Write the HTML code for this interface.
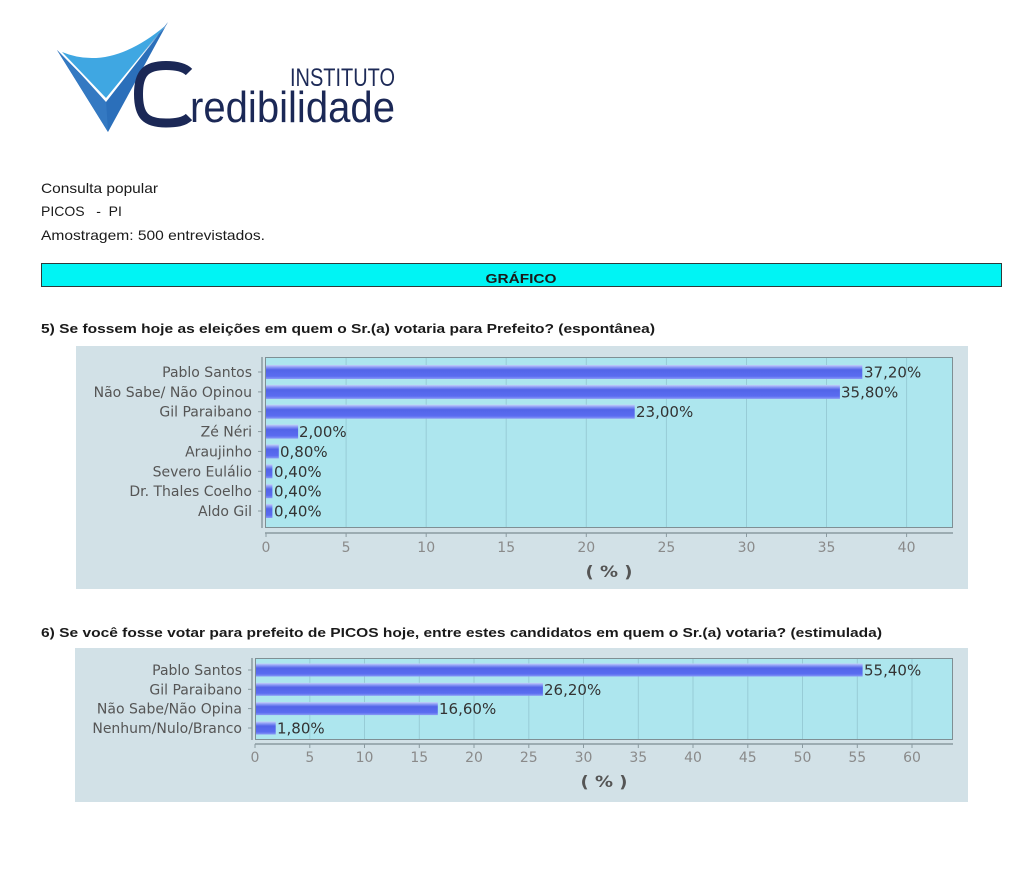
<!DOCTYPE html>
<html><head><meta charset="utf-8">
<style>
html,body{margin:0;padding:0;background:#fff;}
svg{display:block;}
.hd{font-family:"Liberation Sans",sans-serif;fill:#1a1a1a;}
.cl{font-family:"DejaVu Sans","Liberation Sans",sans-serif;font-size:14px;fill:#555;}
.vl{font-family:"DejaVu Sans","Liberation Sans",sans-serif;font-size:15px;fill:#333;}
.tk{font-family:"DejaVu Sans","Liberation Sans",sans-serif;font-size:14px;fill:#8a8a8a;}
.ax{font-family:"DejaVu Sans","Liberation Sans",sans-serif;font-size:16px;font-weight:bold;fill:#555;}
</style></head>
<body>
<svg width="1024" height="875" viewBox="0 0 1024 875" xmlns="http://www.w3.org/2000/svg">
<defs>
<linearGradient id="bar" x1="0" y1="0" x2="0" y2="1">
<stop offset="0" stop-color="#c4d0fa"/>
<stop offset="0.18" stop-color="#8494f4"/>
<stop offset="0.35" stop-color="#5264e8"/>
<stop offset="0.8" stop-color="#5a6cf0"/>
<stop offset="1" stop-color="#8a9af6"/>
</linearGradient>
</defs>
<rect width="1024" height="875" fill="#fff"/>

<!-- Logo -->
<polygon points="57,50 108,132 168,22 106,100" fill="#2b6fba"/>
<polygon points="57,50 108,132 106,100" fill="#3479c2"/>
<polygon points="60,51 106,102 167,24 165,27 106,98" fill="#ffffff"/>
<path d="M62,52 Q110,72 165,26 L106,98 Z" fill="#3fa7e2"/>
<path d="M189,72 C184,67 176,65.5 166,65.5 C146,65.5 138.5,73 138.5,94 C138.5,116 146,123 166,123 C176,123 184,122 189,117" fill="none" stroke="#1b2856" stroke-width="9"/>
<text x="290" y="86" font-family="Liberation Sans, sans-serif" font-size="25" fill="#1d2a57" textLength="105" lengthAdjust="spacingAndGlyphs">INSTITUTO</text>
<text x="190" y="122" font-family="Liberation Sans, sans-serif" font-size="44" fill="#1b2856" textLength="205" lengthAdjust="spacingAndGlyphs">redibilidade</text>

<!-- Header text -->
<text class="hd" x="41" y="193" font-size="14" textLength="117" lengthAdjust="spacingAndGlyphs">Consulta popular</text>
<text class="hd" x="41" y="216" font-size="14" xml:space="preserve">PICOS   -  PI</text>
<text class="hd" x="41" y="240" font-size="14" textLength="224" lengthAdjust="spacingAndGlyphs">Amostragem: 500 entrevistados.</text>

<rect x="41.5" y="263.5" width="960" height="23" fill="#00f4f4" stroke="#2e3a3a" stroke-width="1"/>
<text class="hd" x="521" y="283" font-size="12.5" font-weight="bold" text-anchor="middle" fill="#222" textLength="71" lengthAdjust="spacingAndGlyphs">GRÁFICO</text>

<text class="hd" x="41" y="333" font-size="13" font-weight="bold" textLength="614" lengthAdjust="spacingAndGlyphs">5) Se fossem hoje as eleições em quem o Sr.(a) votaria para Prefeito? (espontânea)</text>

<!-- Chart 1 -->
<rect x="76" y="346" width="892" height="243" fill="#d2e1e7"/>
<rect x="265.5" y="357.5" width="687" height="170" fill="#ade6ee" stroke="#7f8f94" stroke-width="1"/>
<g stroke="#97ccd6" stroke-width="1">
<line x1="346.1" y1="358" x2="346.1" y2="527"/>
<line x1="426.2" y1="358" x2="426.2" y2="527"/>
<line x1="506.2" y1="358" x2="506.2" y2="527"/>
<line x1="586.3" y1="358" x2="586.3" y2="527"/>
<line x1="666.4" y1="358" x2="666.4" y2="527"/>
<line x1="746.5" y1="358" x2="746.5" y2="527"/>
<line x1="826.5" y1="358" x2="826.5" y2="527"/>
<line x1="906.6" y1="358" x2="906.6" y2="527"/>
</g>
<line x1="262" y1="357" x2="262" y2="528" stroke="#8a9aa0" stroke-width="1.5"/>
<line x1="265" y1="533" x2="953" y2="533" stroke="#8a9aa0" stroke-width="1.5"/>
<g stroke="#8a9aa0" stroke-width="1">
<line x1="266" y1="533" x2="266" y2="537"/><line x1="346.1" y1="533" x2="346.1" y2="537"/><line x1="426.2" y1="533" x2="426.2" y2="537"/><line x1="506.2" y1="533" x2="506.2" y2="537"/><line x1="586.3" y1="533" x2="586.3" y2="537"/><line x1="666.4" y1="533" x2="666.4" y2="537"/><line x1="746.5" y1="533" x2="746.5" y2="537"/><line x1="826.5" y1="533" x2="826.5" y2="537"/><line x1="906.6" y1="533" x2="906.6" y2="537"/>
<line x1="258" y1="372" x2="262" y2="372"/><line x1="258" y1="391.9" x2="262" y2="391.9"/><line x1="258" y1="411.7" x2="262" y2="411.7"/><line x1="258" y1="431.6" x2="262" y2="431.6"/><line x1="258" y1="451.4" x2="262" y2="451.4"/><line x1="258" y1="471.3" x2="262" y2="471.3"/><line x1="258" y1="491.2" x2="262" y2="491.2"/><line x1="258" y1="511" x2="262" y2="511"/>
</g>
<g fill="url(#bar)">
<rect x="266" y="365" width="596.3" height="14"/>
<rect x="266" y="384.9" width="573.9" height="14"/>
<rect x="266" y="404.7" width="368.7" height="14"/>
<rect x="266" y="424.6" width="32.1" height="14"/>
<rect x="266" y="444.4" width="12.8" height="14"/>
<rect x="266" y="464.3" width="6.4" height="14"/>
<rect x="266" y="484.2" width="6.4" height="14"/>
<rect x="266" y="504" width="6.4" height="14"/>
</g>
<g class="cl" text-anchor="end">
<text x="252" y="377">Pablo Santos</text>
<text x="252" y="396.9">Não Sabe/ Não Opinou</text>
<text x="252" y="416.7">Gil Paraibano</text>
<text x="252" y="436.6">Zé Néri</text>
<text x="252" y="456.4">Araujinho</text>
<text x="252" y="476.3">Severo Eulálio</text>
<text x="252" y="496.2">Dr. Thales Coelho</text>
<text x="252" y="516">Aldo Gil</text>
</g>
<g class="vl">
<text x="864" y="377.5">37,20%</text>
<text x="841" y="397.4">35,80%</text>
<text x="636" y="417.2">23,00%</text>
<text x="299" y="437.1">2,00%</text>
<text x="280" y="456.9">0,80%</text>
<text x="274" y="476.8">0,40%</text>
<text x="274" y="496.7">0,40%</text>
<text x="274" y="516.5">0,40%</text>
</g>
<g class="tk" text-anchor="middle">
<text x="266" y="552">0</text><text x="346.1" y="552">5</text><text x="426.2" y="552">10</text><text x="506.2" y="552">15</text><text x="586.3" y="552">20</text><text x="666.4" y="552">25</text><text x="746.5" y="552">30</text><text x="826.5" y="552">35</text><text x="906.6" y="552">40</text>
</g>
<text class="ax" x="609" y="577" text-anchor="middle" textLength="47" lengthAdjust="spacingAndGlyphs" xml:space="preserve">( % )</text>

<text class="hd" x="41" y="637" font-size="13" font-weight="bold" textLength="841" lengthAdjust="spacingAndGlyphs">6) Se você fosse votar para prefeito de PICOS hoje, entre estes candidatos em quem o Sr.(a) votaria? (estimulada)</text>

<!-- Chart 2 -->
<rect x="75" y="648" width="893" height="154" fill="#d2e1e7"/>
<rect x="255.5" y="658.5" width="697" height="81" fill="#ade6ee" stroke="#7f8f94" stroke-width="1"/>
<g stroke="#97ccd6" stroke-width="1">
<line x1="309.8" y1="659" x2="309.8" y2="739"/><line x1="364.5" y1="659" x2="364.5" y2="739"/><line x1="419.3" y1="659" x2="419.3" y2="739"/><line x1="474" y1="659" x2="474" y2="739"/><line x1="528.8" y1="659" x2="528.8" y2="739"/><line x1="583.5" y1="659" x2="583.5" y2="739"/><line x1="638.3" y1="659" x2="638.3" y2="739"/><line x1="693" y1="659" x2="693" y2="739"/><line x1="747.8" y1="659" x2="747.8" y2="739"/><line x1="802.5" y1="659" x2="802.5" y2="739"/><line x1="857.3" y1="659" x2="857.3" y2="739"/><line x1="912" y1="659" x2="912" y2="739"/>
</g>
<line x1="252" y1="658" x2="252" y2="740" stroke="#8a9aa0" stroke-width="1.5"/>
<line x1="255" y1="744" x2="953" y2="744" stroke="#8a9aa0" stroke-width="1.5"/>
<g stroke="#8a9aa0" stroke-width="1">
<line x1="255" y1="744" x2="255" y2="748"/><line x1="309.8" y1="744" x2="309.8" y2="748"/><line x1="364.5" y1="744" x2="364.5" y2="748"/><line x1="419.3" y1="744" x2="419.3" y2="748"/><line x1="474" y1="744" x2="474" y2="748"/><line x1="528.8" y1="744" x2="528.8" y2="748"/><line x1="583.5" y1="744" x2="583.5" y2="748"/><line x1="638.3" y1="744" x2="638.3" y2="748"/><line x1="693" y1="744" x2="693" y2="748"/><line x1="747.8" y1="744" x2="747.8" y2="748"/><line x1="802.5" y1="744" x2="802.5" y2="748"/><line x1="857.3" y1="744" x2="857.3" y2="748"/><line x1="912" y1="744" x2="912" y2="748"/>
<line x1="248" y1="670" x2="252" y2="670"/><line x1="248" y1="689.3" x2="252" y2="689.3"/><line x1="248" y1="708.6" x2="252" y2="708.6"/><line x1="248" y1="728" x2="252" y2="728"/>
</g>
<g fill="url(#bar)">
<rect x="256" y="663.5" width="606.6" height="13"/>
<rect x="256" y="682.8" width="286.9" height="13"/>
<rect x="256" y="702.1" width="181.8" height="13"/>
<rect x="256" y="721.5" width="19.7" height="13"/>
</g>
<g class="cl" text-anchor="end">
<text x="242" y="675">Pablo Santos</text>
<text x="242" y="694.3">Gil Paraibano</text>
<text x="242" y="713.6">Não Sabe/Não Opina</text>
<text x="242" y="733">Nenhum/Nulo/Branco</text>
</g>
<g class="vl">
<text x="864" y="675.5">55,40%</text>
<text x="544" y="694.8">26,20%</text>
<text x="439" y="714.1">16,60%</text>
<text x="277" y="733.5">1,80%</text>
</g>
<g class="tk" text-anchor="middle">
<text x="255" y="762">0</text><text x="309.8" y="762">5</text><text x="364.5" y="762">10</text><text x="419.3" y="762">15</text><text x="474" y="762">20</text><text x="528.8" y="762">25</text><text x="583.5" y="762">30</text><text x="638.3" y="762">35</text><text x="693" y="762">40</text><text x="747.8" y="762">45</text><text x="802.5" y="762">50</text><text x="857.3" y="762">55</text><text x="912" y="762">60</text>
</g>
<text class="ax" x="604" y="787" text-anchor="middle" textLength="47" lengthAdjust="spacingAndGlyphs" xml:space="preserve">( % )</text>
</svg>
</body></html>
